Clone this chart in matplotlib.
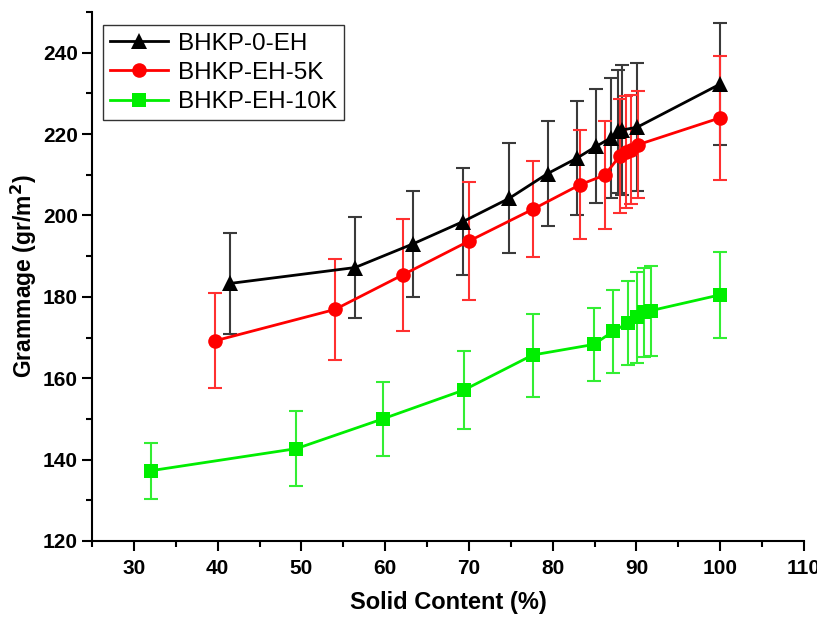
import matplotlib
matplotlib.use("Agg")
import matplotlib.pyplot as plt
from matplotlib.ticker import MultipleLocator

plt.rcParams['font.family'] = ['Liberation Sans', 'DejaVu Sans']

# BHKP-0-EH
x_0eh = [41.5, 56.4, 63.3, 69.3, 74.8, 79.4, 82.9, 85.2, 86.9, 87.8, 88.3, 90.1, 100]
y_0eh = [183.3, 187.2, 193.0, 198.5, 204.2, 210.3, 214.1, 217.0, 219.0, 220.7, 221.0, 221.7, 232.3]
e_0eh = [12.4, 12.3, 13.1, 13.2, 13.5, 13.0, 14.0, 14.0, 14.7, 15.1, 16.0, 15.7, 15.0]

# BHKP-EH-5K
x_5k = [39.7, 54.0, 62.1, 70.0, 77.7, 83.3, 86.2, 88.0, 88.8, 89.4, 90.2, 100]
y_5k = [169.2, 176.9, 185.4, 193.7, 201.6, 207.6, 209.9, 214.6, 215.6, 216.2, 217.4, 224.0]
e_5k = [11.7, 12.4, 13.8, 14.5, 11.7, 13.5, 13.3, 14.0, 13.8, 13.3, 13.2, 15.3]

# BHKP-EH-10K
x_10k = [32.1, 49.4, 59.7, 69.4, 77.6, 84.9, 87.2, 89.0, 90.1, 90.9, 91.7, 100]
y_10k = [137.3, 142.7, 150.0, 157.1, 165.7, 168.3, 171.5, 173.6, 175.0, 176.2, 176.6, 180.5]
e_10k = [6.9, 9.3, 9.0, 9.6, 10.2, 8.9, 10.3, 10.3, 11.2, 11.0, 11.1, 10.5]

labels = ['BHKP-0-EH', 'BHKP-EH-5K', 'BHKP-EH-10K']

fig = plt.figure(figsize=(8.17, 6.17), dpi=100)
ax = fig.add_axes([92/817, 1-541/617, (804-92)/817, (541-12)/617])

series = [
    (x_0eh, y_0eh, e_0eh, 'black', '#3a3a3a', '^', 11),
    (x_5k, y_5k, e_5k, '#ff0000', '#ff3030', 'o', 10.5),
    (x_10k, y_10k, e_10k, '#00ee00', '#33ee33', 's', 9.5),
]
for (xs, ys, es, c, ec, m, ms), lab in zip(series, labels):
    ax.errorbar(xs, ys, yerr=es, fmt='none', ecolor=ec, elinewidth=1.5,
                capsize=5, capthick=1.5, zorder=2)
    ax.plot(xs, ys, color=c, lw=2.0, marker=m, markersize=ms,
            markeredgewidth=0, label=lab, zorder=3)

ax.set_xlim(25, 110)
ax.set_ylim(120, 250)
ax.xaxis.set_minor_locator(MultipleLocator(5))
ax.yaxis.set_minor_locator(MultipleLocator(10))
ax.set_xticks([30, 40, 50, 60, 70, 80, 90, 100, 110])
ax.set_yticks([120, 140, 160, 180, 200, 220, 240])

for s in ['top', 'right']:
    ax.spines[s].set_visible(False)
for s in ['left', 'bottom']:
    ax.spines[s].set_linewidth(1.5)

ax.tick_params(which='major', direction='out', length=7, width=1.5,
               labelsize=15)
ax.tick_params(axis='x', which='major', pad=6)
ax.tick_params(axis='y', which='major', pad=3)
ax.tick_params(which='minor', direction='out', length=4, width=1.5)
for t in ax.get_xticklabels() + ax.get_yticklabels():
    t.set_fontweight('bold')

ax.set_xlabel('Solid Content (%)', fontsize=17, fontweight='bold', labelpad=9)
ax.set_ylabel('Grammage (gr/m$^\\mathbf{2}$)', fontsize=16.5, fontweight='bold', labelpad=3)

leg = ax.legend(loc='upper left', bbox_to_anchor=(0.015, 0.975), fontsize=17.5,
                frameon=True, fancybox=False, edgecolor='black',
                handlelength=2.4, handletextpad=0.4, borderpad=0.3,
                labelspacing=0.3, borderaxespad=0)
leg.get_frame().set_linewidth(1.0)

fig.savefig('out.png', dpi=100)
